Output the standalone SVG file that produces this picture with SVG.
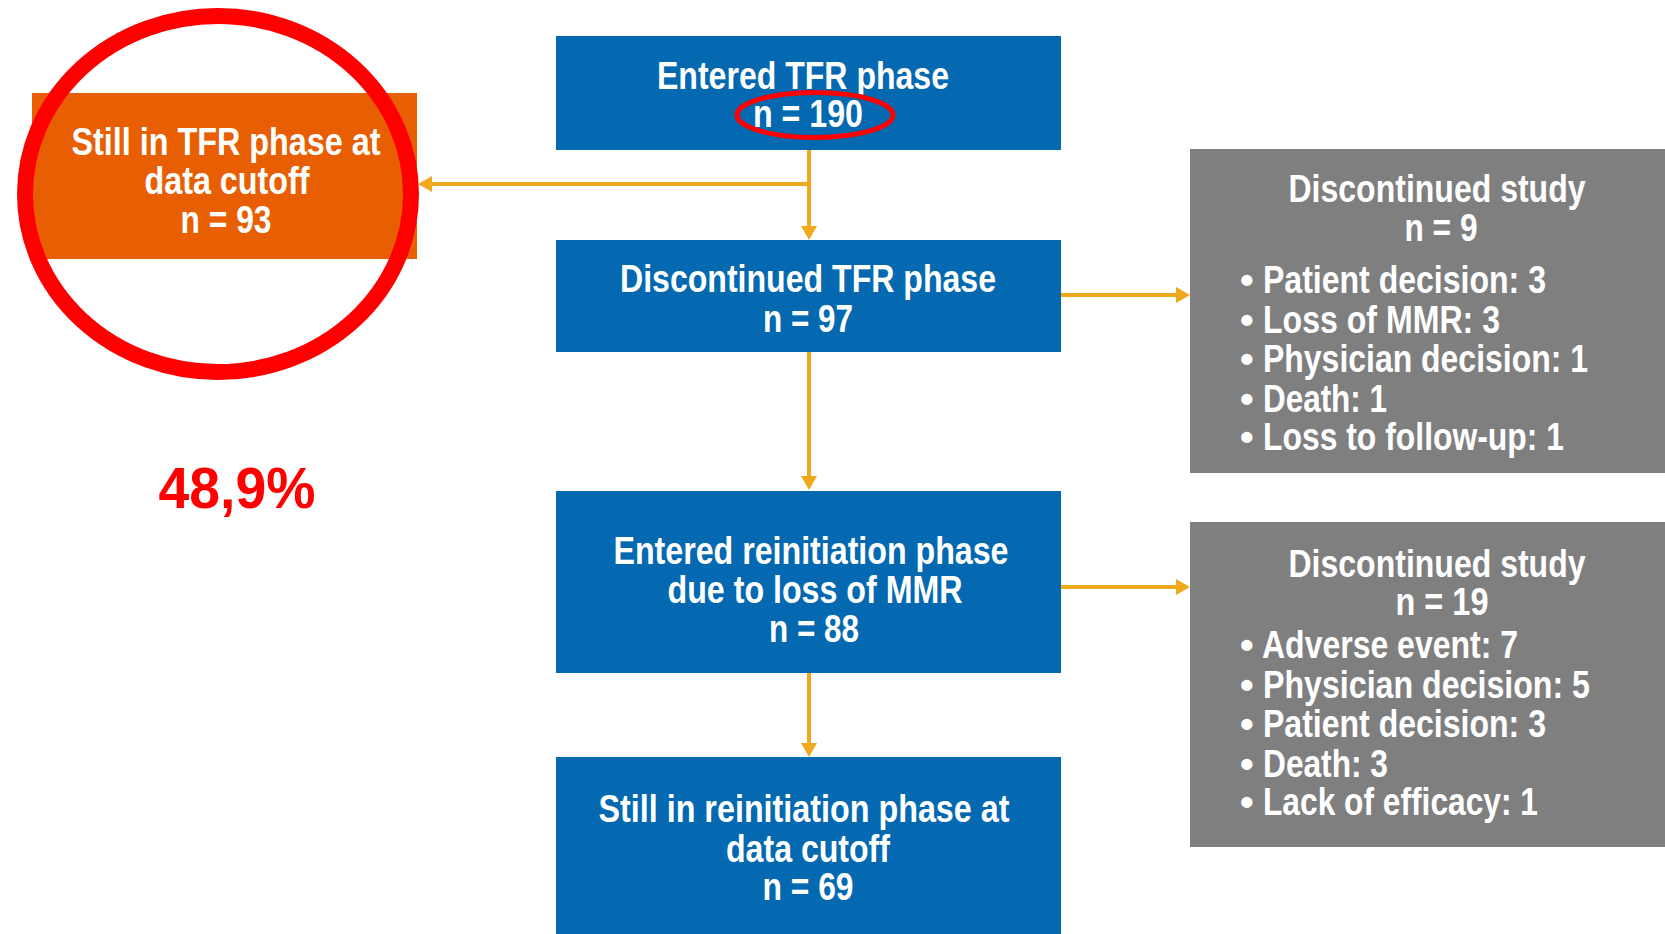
<svg xmlns="http://www.w3.org/2000/svg" width="1665" height="934" viewBox="0 0 1665 934">
<style>
.t{font-family:'Liberation Sans Narrow','Liberation Sans',Arial,sans-serif;font-weight:bold;font-size:39px;fill:#ffffff;text-anchor:middle}
.l{font-family:'Liberation Sans Narrow','Liberation Sans',Arial,sans-serif;font-weight:bold;font-size:39px;fill:#ffffff;text-anchor:start}
.blue{fill:#0469B1}
.gray{fill:#7F7F7F}
.orange{fill:#E85F03}
.conn{stroke:#F0A81C;stroke-width:4;fill:none;marker-end:url(#arr)}
.hl{fill:none;stroke:#FF0000}
.pct{font-family:'Liberation Sans',Arial,sans-serif;font-weight:bold;font-size:58px;fill:#FF0000;text-anchor:middle}
</style>
<defs>
<marker id="arr" markerUnits="userSpaceOnUse" markerWidth="16" markerHeight="16" refX="4" refY="8" orient="auto">
<path d="M0,0 L14,8 L0,16 z" fill="#F0A81C"/>
</marker>
</defs>
<rect width="1665" height="934" fill="#ffffff"/>

<g id="connectors">
<path class="conn" d="M809,150 V230"/>
<path class="conn" d="M809,184 H428"/>
<path class="conn" d="M809,352 V480"/>
<path class="conn" d="M809,673 V747"/>
<path class="conn" d="M1061,295 H1180"/>
<path class="conn" d="M1061,587 H1180"/>
</g>

<g id="entered-tfr">
<rect class="blue" x="556" y="36" width="505" height="114"/>
<text class="t" x="803" y="89" textLength="292" lengthAdjust="spacingAndGlyphs">Entered TFR phase</text>
<text class="t" x="808" y="127" textLength="110" lengthAdjust="spacingAndGlyphs">n = 190</text>
<ellipse class="hl" cx="815" cy="115" rx="78" ry="22.5" stroke-width="5"/>
</g>

<g id="still-tfr">
<rect class="orange" x="32" y="93" width="385" height="166"/>
<text class="t" x="226" y="155" textLength="309" lengthAdjust="spacingAndGlyphs">Still in TFR phase at</text>
<text class="t" x="227" y="194" textLength="165" lengthAdjust="spacingAndGlyphs">data cutoff</text>
<text class="t" x="226" y="233" textLength="91" lengthAdjust="spacingAndGlyphs">n = 93</text>
</g>

<g id="highlight-circle">
<ellipse class="hl" cx="218" cy="194" rx="193" ry="178" stroke-width="16"/>
</g>

<g id="percent">
<text class="pct" x="237" y="508" textLength="157" lengthAdjust="spacingAndGlyphs">48,9%</text>
</g>

<g id="discontinued-tfr">
<rect class="blue" x="556" y="240" width="505" height="112"/>
<text class="t" x="808" y="292" textLength="376" lengthAdjust="spacingAndGlyphs">Discontinued TFR phase</text>
<text class="t" x="808" y="332" textLength="90" lengthAdjust="spacingAndGlyphs">n = 97</text>
</g>

<g id="reinitiation">
<rect class="blue" x="556" y="491" width="505" height="182"/>
<text class="t" x="811" y="564" textLength="395" lengthAdjust="spacingAndGlyphs">Entered reinitiation phase</text>
<text class="t" x="815" y="603" textLength="295" lengthAdjust="spacingAndGlyphs">due to loss of MMR</text>
<text class="t" x="814" y="642" textLength="90" lengthAdjust="spacingAndGlyphs">n = 88</text>
</g>

<g id="still-reinitiation">
<rect class="blue" x="556" y="757" width="505" height="177"/>
<text class="t" x="804" y="822" textLength="411" lengthAdjust="spacingAndGlyphs">Still in reinitiation phase at</text>
<text class="t" x="808" y="862" textLength="164" lengthAdjust="spacingAndGlyphs">data cutoff</text>
<text class="t" x="808" y="900" textLength="91" lengthAdjust="spacingAndGlyphs">n = 69</text>
</g>

<g id="discontinued-study-1">
<rect class="gray" x="1190" y="149" width="475" height="324"/>
<text class="t" x="1437" y="202" textLength="297" lengthAdjust="spacingAndGlyphs">Discontinued study</text>
<text class="t" x="1441" y="241" textLength="73" lengthAdjust="spacingAndGlyphs">n = 9</text>
<text class="l" x="1240" y="293">•</text>
<text class="l" x="1263" y="293" textLength="283" lengthAdjust="spacingAndGlyphs">Patient decision: 3</text>
<text class="l" x="1240" y="333">•</text>
<text class="l" x="1263" y="333" textLength="237" lengthAdjust="spacingAndGlyphs">Loss of MMR: 3</text>
<text class="l" x="1240" y="372">•</text>
<text class="l" x="1263" y="372" textLength="325" lengthAdjust="spacingAndGlyphs">Physician decision: 1</text>
<text class="l" x="1240" y="412">•</text>
<text class="l" x="1263" y="412" textLength="124" lengthAdjust="spacingAndGlyphs">Death: 1</text>
<text class="l" x="1240" y="450">•</text>
<text class="l" x="1263" y="450" textLength="301" lengthAdjust="spacingAndGlyphs">Loss to follow-up: 1</text>
</g>

<g id="discontinued-study-2">
<rect class="gray" x="1190" y="522" width="475" height="325"/>
<text class="t" x="1437" y="577" textLength="297" lengthAdjust="spacingAndGlyphs">Discontinued study</text>
<text class="t" x="1442" y="615" textLength="93" lengthAdjust="spacingAndGlyphs">n = 19</text>
<text class="l" x="1240" y="658">•</text>
<text class="l" x="1262" y="658" textLength="256" lengthAdjust="spacingAndGlyphs">Adverse event: 7</text>
<text class="l" x="1240" y="698">•</text>
<text class="l" x="1263" y="698" textLength="327" lengthAdjust="spacingAndGlyphs">Physician decision: 5</text>
<text class="l" x="1240" y="737">•</text>
<text class="l" x="1263" y="737" textLength="283" lengthAdjust="spacingAndGlyphs">Patient decision: 3</text>
<text class="l" x="1240" y="777">•</text>
<text class="l" x="1263" y="777" textLength="125" lengthAdjust="spacingAndGlyphs">Death: 3</text>
<text class="l" x="1240" y="815">•</text>
<text class="l" x="1263" y="815" textLength="275" lengthAdjust="spacingAndGlyphs">Lack of efficacy: 1</text>
</g>
</svg>
